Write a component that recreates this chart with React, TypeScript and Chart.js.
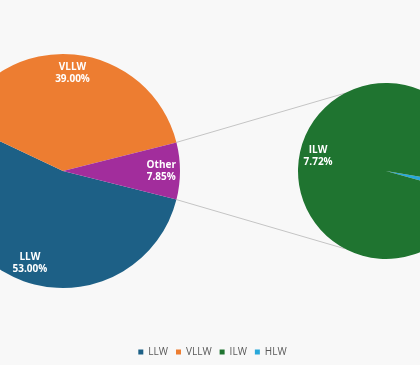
import React, { useEffect, useRef } from "react";
import { Chart, registerables } from "chart.js";

Chart.register(...registerables);

// ---- data ----
const mainLabels = ["LLW", "VLLW", "Other"];
const mainValues = [53.0, 39.0, 7.85];
const mainColors = ["#1d6086", "#ed7d31", "#a22d9c"];

const subLabels = ["HLW", "ILW"];
const subValues = [0.13, 7.72];
const subColors = ["#29a8da", "#1f7430"];

const legendLabels = ["LLW", "VLLW", "ILW", "HLW"];
const legendColors = ["#1d6086", "#ed7d31", "#1f7430", "#29a8da"];

// ---- layout ----
const W = 420;
const H = 365;
const MAIN = { cx: 63, cy: 171, r: 117, labelRatio: 0.84 };
const SUB = { cx: 386, cy: 171, r: 88, labelRatio: 0.79, startDeg: 9.5 };
const CONNECT_DEG = 118;
const BG = "#f8f8f8";
const FONT = "'Open Sans', 'Noto Sans', sans-serif";

const sliceLabelPlugin = (ratio: number) => ({
  id: "sliceLabels",
  afterDatasetsDraw(chart: any) {
    const ctx = chart.ctx;
    const meta = chart.getDatasetMeta(0);
    const ds = chart.data.datasets[0];
    ctx.save();
    ctx.fillStyle = "#ffffff";
    ctx.font = `bold 10px ${FONT}`;
    ctx.textAlign = "center";
    ctx.textBaseline = "middle";
    meta.data.forEach((arc: any, i: number) => {
      const { x, y, startAngle, endAngle, outerRadius } = arc.getProps(
        ["x", "y", "startAngle", "endAngle", "outerRadius"],
        true
      );
      const mid = (startAngle + endAngle) / 2;
      const lx = x + Math.cos(mid) * outerRadius * ratio;
      const ly = y + Math.sin(mid) * outerRadius * ratio;
      ctx.fillText(String(chart.data.labels[i]), lx, ly - 6);
      ctx.fillText(Number(ds.data[i]).toFixed(2) + "%", lx, ly + 6);
    });
    ctx.restore();
  },
});

export default function App() {
  const bgRef = useRef<HTMLCanvasElement | null>(null);
  const mainRef = useRef<HTMLCanvasElement | null>(null);
  const subRef = useRef<HTMLCanvasElement | null>(null);

  useEffect(() => {
    const mainTotal = mainValues.reduce((a, b) => a + b, 0);
    const otherIdx = mainLabels.indexOf("Other");
    const otherShare = mainValues[otherIdx] / mainTotal;

    const subChart = new Chart(subRef.current as HTMLCanvasElement, {
      type: "pie",
      data: {
        labels: subLabels,
        datasets: [
          {
            data: subValues,
            backgroundColor: subColors,
            borderWidth: 0,
            hoverOffset: 0,
            radius: SUB.r,
            clip: false,
          } as any,
        ],
      },
      options: {
        responsive: false,
        animation: false,
        events: [],
        rotation: 90 + SUB.startDeg,
        layout: {
          padding: { left: 2 * SUB.cx - W, right: 0, top: 0, bottom: H - 2 * SUB.cy },
        },
        plugins: { legend: { display: false }, tooltip: { enabled: false } },
      } as any,
      plugins: [sliceLabelPlugin(SUB.labelRatio)],
    });

    const mainChart = new Chart(mainRef.current as HTMLCanvasElement, {
      type: "pie",
      data: {
        labels: mainLabels,
        datasets: [
          {
            data: mainValues,
            backgroundColor: mainColors,
            borderWidth: 0,
            hoverOffset: 0,
            radius: MAIN.r,
            clip: false,
          } as any,
        ],
      },
      options: {
        responsive: false,
        animation: false,
        events: [],
        rotation: 90 + otherShare * 180,
        layout: {
          padding: { left: 0, right: W - 2 * MAIN.cx, top: 0, bottom: H - 2 * MAIN.cy },
        },
        plugins: { legend: { display: false }, tooltip: { enabled: false } },
      } as any,
      plugins: [sliceLabelPlugin(MAIN.labelRatio)],
    });

    const connectorPlugin = {
      id: "connectors",
      afterDraw(chart: any) {
        const other: any = mainChart.getDatasetMeta(0).data[otherIdx];
        const subArc: any = subChart.getDatasetMeta(0).data[0];
        if (!other || !subArc) return;
        const o = other.getProps(["x", "y", "startAngle", "endAngle", "outerRadius"], true);
        const s = subArc.getProps(["x", "y", "outerRadius"], true);
        const a = (CONNECT_DEG * Math.PI) / 180;
        const ctx = chart.ctx;
        ctx.save();
        ctx.strokeStyle = "#c4c4c4";
        ctx.lineWidth = 1;
        ctx.beginPath();
        ctx.moveTo(o.x + Math.cos(o.startAngle) * o.outerRadius, o.y + Math.sin(o.startAngle) * o.outerRadius);
        ctx.lineTo(s.x + Math.cos(-a) * s.outerRadius, s.y + Math.sin(-a) * s.outerRadius);
        ctx.moveTo(o.x + Math.cos(o.endAngle) * o.outerRadius, o.y + Math.sin(o.endAngle) * o.outerRadius);
        ctx.lineTo(s.x + Math.cos(a) * s.outerRadius, s.y + Math.sin(a) * s.outerRadius);
        ctx.stroke();
        ctx.restore();
      },
    };

    const bgChart = new Chart(bgRef.current as HTMLCanvasElement, {
      type: "pie",
      data: { labels: legendLabels, datasets: [] },
      options: {
        responsive: false,
        animation: false,
        events: [],
        layout: { padding: { left: 5, right: 0, top: 0, bottom: -2 } },
        plugins: {
          tooltip: { enabled: false },
          legend: {
            display: true,
            position: "bottom",
            labels: {
              boxWidth: 5,
              boxHeight: 5,
              padding: 8,
              color: "#595959",
              font: { family: FONT, size: 10 },
              generateLabels: () =>
                legendLabels.map((t, i) => ({
                  text: t,
                  fillStyle: legendColors[i],
                  strokeStyle: legendColors[i],
                  lineWidth: 0,
                  hidden: false,
                  index: i,
                  fontColor: "#595959",
                })),
            },
          },
        },
      } as any,
      plugins: [connectorPlugin],
    });

    return () => {
      bgChart.destroy();
      mainChart.destroy();
      subChart.destroy();
    };
  }, []);

  const cv: React.CSSProperties = {
    position: "absolute",
    left: 0,
    top: 0,
    width: W,
    height: H,
  };

  return (
    <div
      style={{
        position: "absolute",
        left: 0,
        top: 0,
        width: W,
        height: H,
        overflow: "hidden",
        background: BG,
      }}
    >
      <canvas ref={bgRef} width={W} height={H} style={cv} />
      <canvas ref={mainRef} width={W} height={H} style={cv} />
      <canvas ref={subRef} width={W} height={H} style={cv} />
    </div>
  );
}
